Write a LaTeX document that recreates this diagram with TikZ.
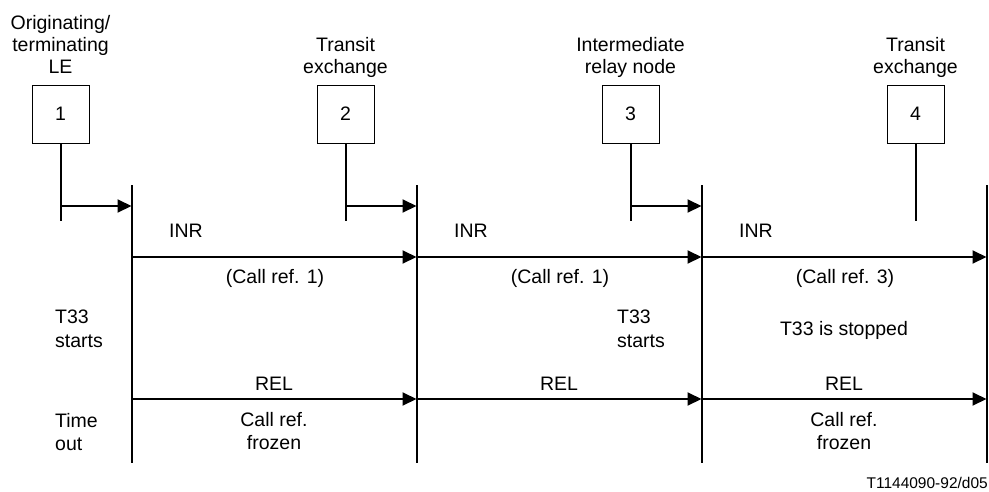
\documentclass[tikz,border=0pt]{standalone}
\usepackage{fontspec}
\setmainfont{Liberation Sans}
\usetikzlibrary{arrows.meta}
\begin{document}
\begin{tikzpicture}[x=1pt,y=-1pt,
  lbl/.style={font=\fontsize{19.5}{23.5}\selectfont, inner sep=0pt, anchor=base},
  lblw/.style={lbl, anchor=base west},
  ebox/.style={draw, line width=1pt, minimum width=57pt, minimum height=58pt, inner sep=0pt, font=\fontsize{19.5}{23.5}\selectfont},
  wire/.style={line width=2pt},
  msg/.style={line width=2pt, -{Triangle[length=14pt,width=13pt]}},
]
\useasboundingbox (0,0) rectangle (989,491);

% header labels
\node[lbl] (h1a) at (60.5,29) {Originating/};
\node[lbl] (h1b) at (60.5,51) {terminating};
\node[lbl] (h1c) at (60.5,73) {LE};
\node[lbl] (h2a) at (345.5,51) {Transit};
\node[lbl] (h2b) at (345.5,73) {exchange};
\node[lbl] (h3a) at (630.5,51) {Intermediate};
\node[lbl] (h3b) at (630.5,73) {relay node};
\node[lbl] (h4a) at (915.5,51) {Transit};
\node[lbl] (h4b) at (915.5,73) {exchange};

% boxes
\node[ebox] (b1) at (60.5,114) {1};
\node[ebox] (b2) at (345.5,114) {2};
\node[ebox] (b3) at (630.5,114) {3};
\node[ebox] (b4) at (915.5,114) {4};

% feed lines
\coordinate (f1) at (60.5,221);
\coordinate (f2) at (345.5,221);
\coordinate (f3) at (630.5,221);
\coordinate (f4) at (915.5,221);
\draw[wire] (b1.south) -- (f1);
\draw[wire] (b2.south) -- (f2);
\draw[wire] (b3.south) -- (f3);
\draw[wire] (b4.south) -- (f4);

% main vertical lines
\coordinate (t1) at (131.5,185); \coordinate (e1) at (131.5,463);
\coordinate (t2) at (416.5,185); \coordinate (e2) at (416.5,463);
\coordinate (t3) at (701.5,185); \coordinate (e3) at (701.5,463);
\coordinate (t4) at (986.5,185); \coordinate (e4) at (986.5,463);
\draw[wire] (t1) -- (e1);
\draw[wire] (t2) -- (e2);
\draw[wire] (t3) -- (e3);
\draw[wire] (t4) -- (e4);

% short arrows
\coordinate (s1) at (60.5,206);  \coordinate (a1) at (131.5,206);
\coordinate (s2) at (345.5,206); \coordinate (a2) at (416.5,206);
\coordinate (s3) at (630.5,206); \coordinate (a3) at (701.5,206);
\draw[msg] (s1) -- (a1);
\draw[msg] (s2) -- (a2);
\draw[msg] (s3) -- (a3);

% INR arrows
\coordinate (i1) at (131.5,257); \coordinate (i2) at (416.5,257);
\coordinate (i3) at (701.5,257); \coordinate (i4) at (986.5,257);
\draw[msg] (i1) -- (i2);
\draw[msg] (i2) -- (i3);
\draw[msg] (i3) -- (i4);

% REL arrows
\coordinate (r1) at (131.5,399); \coordinate (r2) at (416.5,399);
\coordinate (r3) at (701.5,399); \coordinate (r4) at (986.5,399);
\draw[msg] (r1) -- (r2);
\draw[msg] (r2) -- (r3);
\draw[msg] (r3) -- (r4);

% message labels
\node[lblw] (inr1) at (169,237) {INR};
\node[lblw] (inr2) at (454,237) {INR};
\node[lblw] (inr3) at (739,237) {INR};
\node[lbl] (cr1) at (275,283) {(Call ref. 1)};
\node[lbl] (cr2) at (560,283) {(Call ref. 1)};
\node[lbl] (cr3) at (845,283) {(Call ref. 3)};

\node[lblw] (ta1) at (55,323) {T33};
\node[lblw] (ta2) at (55,347) {starts};
\node[lblw] (tb1) at (617,323) {T33};
\node[lblw] (tb2) at (617,347) {starts};
\node[lbl] (tst) at (844,335) {T33 is stopped};

\node[lbl] (rel1) at (274,390) {REL};
\node[lbl] (rel2) at (559,390) {REL};
\node[lbl] (rel3) at (844,390) {REL};

\node[lblw] (to1) at (55,427) {Time};
\node[lblw] (to2) at (55,450) {out};
\node[lbl] (fz1) at (274,426) {Call ref.};
\node[lbl] (fz2) at (274,449) {frozen};
\node[lbl] (fz3) at (844,426) {Call ref.};
\node[lbl] (fz4) at (844,449) {frozen};

% footer
\node[font=\fontsize{15.5}{18}\selectfont, inner sep=0pt, anchor=base east] (ft) at (988,488) {T1144090-92/d05};
\end{tikzpicture}
\end{document}
